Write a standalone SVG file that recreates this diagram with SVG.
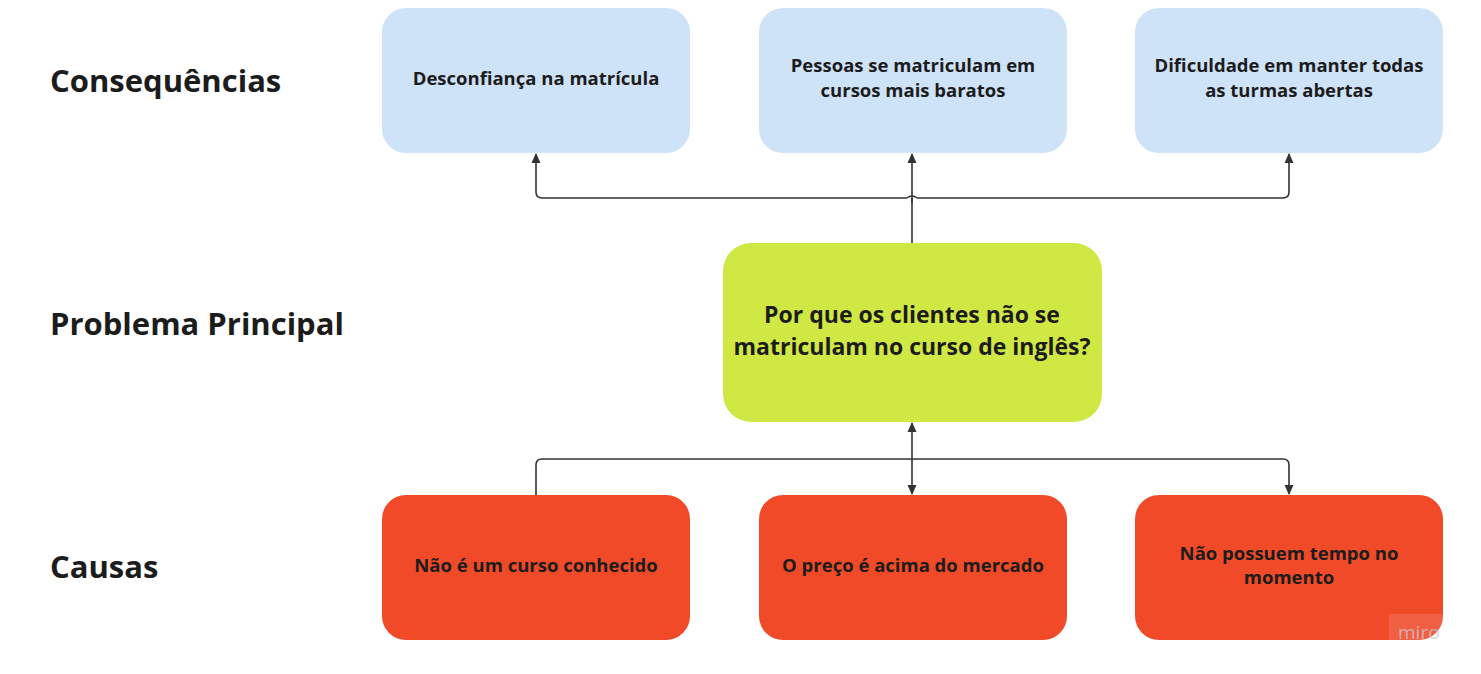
<svg xmlns="http://www.w3.org/2000/svg" width="1481" height="674" viewBox="0 0 1481 674">
<defs>
<style>
.lbl{font-family:"Open Sans","Noto Sans",sans-serif;font-weight:700;font-size:31px;fill:#1c1c1c}
.t{font-family:"Open Sans","Noto Sans",sans-serif;font-weight:700;font-size:18.5px;fill:#1c1c1c;text-anchor:middle}
.tc{font-family:"Open Sans","Noto Sans",sans-serif;font-weight:700;font-size:23px;fill:#1c1c1c;text-anchor:middle}
.blue{fill:#cee2f8}
.red{fill:#f04a28}
.green{fill:#d0e843}
.c{fill:none;stroke:#333;stroke-width:1.6}
</style>
<marker id="ah" viewBox="0 0 10 10" refX="9" refY="5" markerWidth="10" markerHeight="10" markerUnits="userSpaceOnUse" orient="auto">
<path d="M0,0.5 L10,5 L0,9.5 Z" fill="#333"/>
</marker>
</defs>
<rect width="1481" height="674" fill="#fff"/>
<g id="labels">
<text class="lbl" x="50" y="92">Consequências</text>
<text class="lbl" x="50" y="335">Problema Principal</text>
<text class="lbl" x="50" y="578">Causas</text>
</g>
<g id="connectors">
<path class="c" d="M912,243 V198"/>
<path class="c" d="M907,198 H542 Q536,198 536,192 V154" marker-end="url(#ah)"/>
<path class="c" d="M917,198 H1283 Q1289,198 1289,192 V154" marker-end="url(#ah)"/>
<path class="c" d="M907,198 Q912,194 917,198"/>
<path class="c" d="M912,203 V154" marker-end="url(#ah)"/>
<path class="c" d="M536,495 V465 Q536,459 542,459 H1283 Q1289,459 1289,465 V494" marker-end="url(#ah)"/>
<path class="c" d="M912,459 V423" marker-end="url(#ah)"/>
<path class="c" d="M912,459 V494" marker-end="url(#ah)"/>
</g>
<g id="c1"><rect class="blue" x="382" y="8" width="308" height="145" rx="24"/><text class="t" x="536" y="85">Desconfiança na matrícula</text></g>
<g id="c2"><rect class="blue" x="759" y="8" width="308" height="145" rx="24"/><text class="t" x="913" y="72">Pessoas se matriculam em</text><text class="t" x="913" y="97">cursos mais baratos</text></g>
<g id="c3"><rect class="blue" x="1135" y="8" width="308" height="145" rx="24"/><text class="t" x="1289" y="72">Dificuldade em manter todas</text><text class="t" x="1289" y="97">as turmas abertas</text></g>
<g id="main"><rect class="green" x="723" y="243" width="379" height="179" rx="28"/><text class="tc" x="912" y="323">Por que os clientes não se</text><text class="tc" x="912" y="355">matriculam no curso de inglês?</text></g>
<g id="k1"><rect class="red" x="382" y="495" width="308" height="145" rx="24"/><text class="t" x="536" y="572">Não é um curso conhecido</text></g>
<g id="k2"><rect class="red" x="759" y="495" width="308" height="145" rx="24"/><text class="t" x="913" y="572">O preço é acima do mercado</text></g>
<g id="k3"><rect class="red" x="1135" y="495" width="308" height="145" rx="24"/><text class="t" x="1289" y="560">Não possuem tempo no</text><text class="t" x="1289" y="584">momento</text></g>
<g id="watermark"><rect x="1389" y="614" width="54" height="26" fill="#fff" fill-opacity="0.12"/><text x="1398" y="639" font-family="Open Sans,sans-serif" font-size="19" fill="#c5c8dc" fill-opacity="0.75">miro</text></g>
</svg>
